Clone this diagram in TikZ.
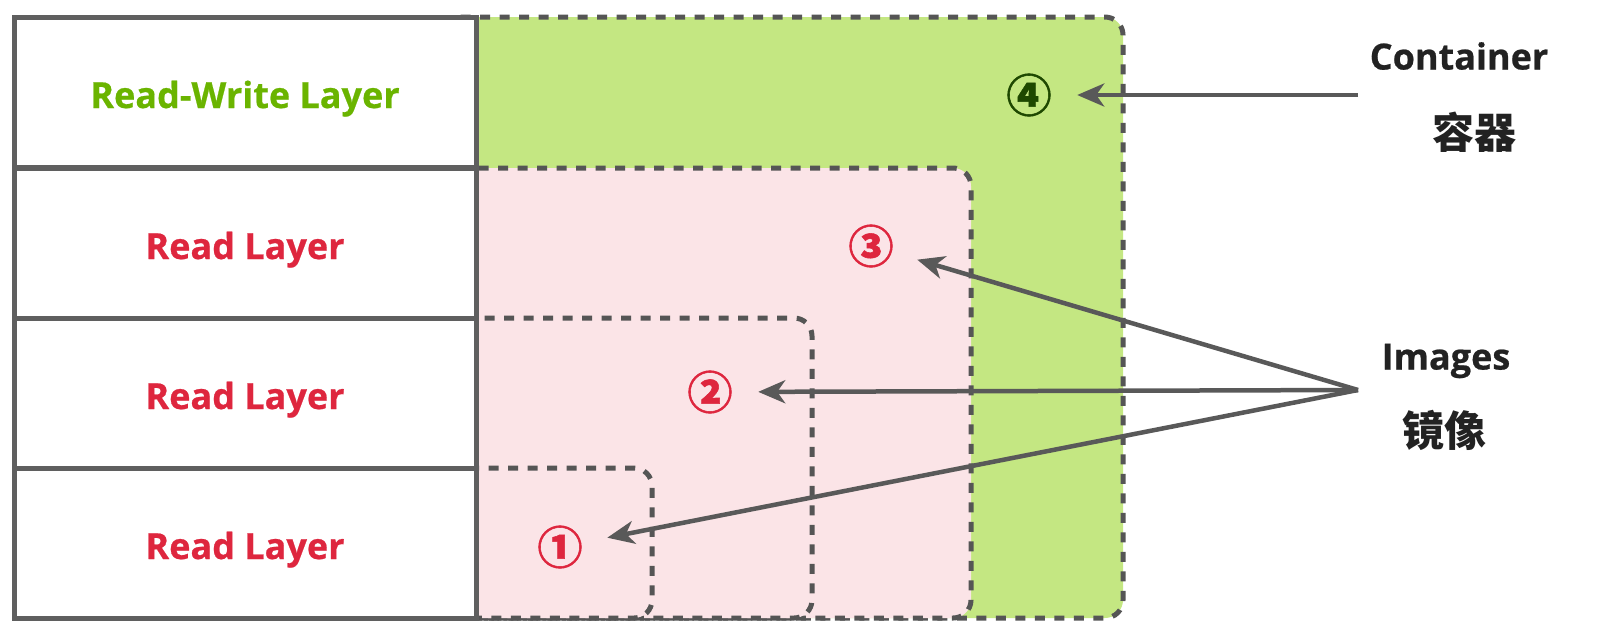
\documentclass[tikz,border=0pt]{standalone}
\usepackage{fontspec}
\setmainfont{Open Sans}[BoldFeatures={FakeBold=0.6}]
\newfontfamily\cjk{Noto Sans CJK SC}
\newfontfamily\cjknum{Noto Sans CJK SC}[BoldFeatures={FakeBold=1.2}]
\usetikzlibrary{arrows.meta}
\definecolor{framegray}{RGB}{95,95,95}
\definecolor{dashgray}{RGB}{85,85,85}
\definecolor{arrowgray}{RGB}{89,89,89}
\definecolor{greenfill}{RGB}{196,231,130}
\definecolor{pinkfill}{RGB}{251,228,231}
\definecolor{redtext}{RGB}{222,38,62}
\definecolor{greentext}{RGB}{106,180,0}
\definecolor{darkgreen}{RGB}{30,72,0}
\definecolor{labeltext}{RGB}{34,34,34}
\begin{document}
\begin{tikzpicture}[x=1pt,y=-1pt,
  region/.style={draw=dashgray, line width=5pt, dash pattern=on 10pt off 9.5pt, rounded corners=18pt},
  layerrow/.style={draw=framegray, line width=5pt, fill=white, minimum width=462pt, minimum height=150pt,
    inner sep=0pt, outer sep=0pt, anchor=north west, text height=32pt, text depth=0pt,
    font=\fontsize{36}{40}\selectfont\bfseries},
  circnum/.style={shape=circle, inner sep=0pt, minimum size=96pt, font=\cjknum\fontsize{45}{47}\selectfont\bfseries},
  biglabel/.style={inner sep=0pt, text=labeltext, font=\fontsize{36}{40}\selectfont\bfseries},
  cjklabel/.style={inner sep=0pt, text=labeltext, font=\cjk\fontsize{42}{44}\selectfont\bfseries},
  pointer/.style={draw=arrowgray, line width=4.5pt, -{Stealth[length=27pt,width=23pt,inset=8pt]}}
]
\useasboundingbox (0,0) rectangle (1597,625);
% regions (left parts hidden under the table)
\path[region, fill=greenfill] (440,17) rectangle (1123,618);
\path[region, fill=pinkfill] (440,168) rectangle (971,618);
\path[region, fill=pinkfill] (440,318) rectangle (812,618);
\path[region, fill=pinkfill] (440,468) rectangle (652,618);
% table of layers
\node[layerrow, text=greentext] (rw) at (14,17) {Read-Write Layer};
\node[layerrow, text=redtext] (r3) at (14,168) {Read Layer};
\node[layerrow, text=redtext] (r2) at (14,318) {Read Layer};
\node[layerrow, text=redtext] (r1) at (14,468) {Read Layer};
% circled numbers
\node[circnum, text=darkgreen] (n4) at (1029,95) {④};
\node[circnum, text=redtext] (n3) at (871,246) {③};
\node[circnum, text=redtext] (n2) at (710,392) {②};
\node[circnum, text=redtext] (n1) at (560,547) {①};
% labels
\node[biglabel] (cont) at (1459,56) {Container};
\node[cjklabel] (rongqi) at (1474,132) {容器};
\node[biglabel] (imgs) at (1446,361) {Images};
\node[cjklabel] (jingxiang) at (1444,430) {镜像};
\coordinate (csrc) at (1358,95);
\coordinate (isrc) at (1358,390);
% arrows
\draw[pointer] (csrc) -- (n4);
\draw[pointer] (isrc) -- (n3);
\draw[pointer] (isrc) -- (n2);
\draw[pointer] (isrc) -- (n1);
\end{tikzpicture}
\end{document}
